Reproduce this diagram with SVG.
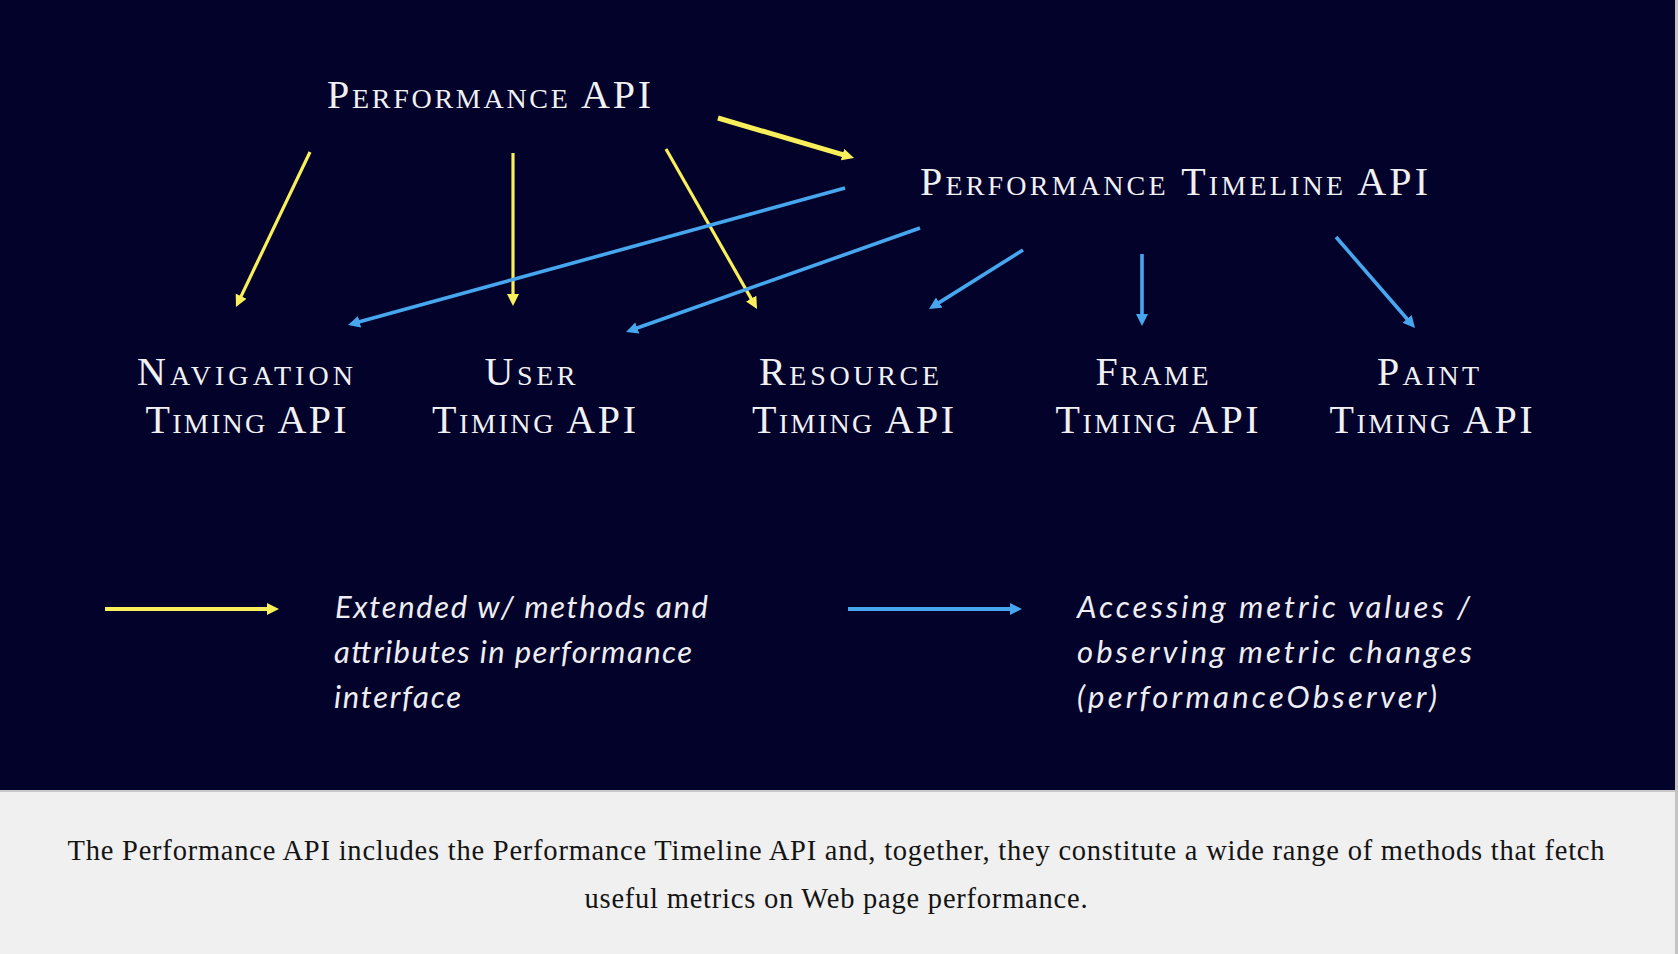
<svg xmlns="http://www.w3.org/2000/svg" width="1678" height="954" viewBox="0 0 1678 954">
  <style>
    .sc { font-family: "Liberation Serif", "DejaVu Serif", serif; font-variant: small-caps; font-size: 40px; fill: #f1f1f3; text-anchor: middle; }
    .leg { font-family: Lato, "Open Sans", "Liberation Sans", sans-serif; font-style: italic; font-weight: 400; font-size: 31px; fill: #eeeef2; }
    .cap { font-family: "Liberation Serif", "DejaVu Serif", serif; font-size: 28.5px; fill: #141414; text-anchor: middle; }
    .y { stroke: #f8ef5b; fill: none; stroke-width: 3.2; }
    .b { stroke: #47a7ee; fill: none; stroke-width: 3.6; }
  </style>
  <defs>
    <marker id="hy" markerUnits="userSpaceOnUse" markerWidth="12" markerHeight="12" viewBox="0 0 12 12" refX="1" refY="6" orient="auto">
      <path d="M0,0 L12,6 L0,12 z" fill="#f8ef5b"/>
    </marker>
    <marker id="hb" markerUnits="userSpaceOnUse" markerWidth="12" markerHeight="12" viewBox="0 0 12 12" refX="1" refY="6" orient="auto">
      <path d="M0,0 L12,6 L0,12 z" fill="#47a7ee"/>
    </marker>
  </defs>

  <rect x="0" y="0" width="1678" height="954" fill="#f0f0f0"/>
  <rect x="0" y="0" width="1675" height="790" fill="#02022b"/>
  <rect x="0" y="790" width="1675" height="2" fill="#c8c8c8"/>
  <rect x="1675" y="0" width="3" height="954" fill="#c4c4c4"/>

  <g id="connectors">
    <line class="y" x1="310" y1="152" x2="240.7" y2="297.1" marker-end="url(#hy)"/>
    <line class="y" x1="513" y1="153" x2="513" y2="295" marker-end="url(#hy)"/>
    <line class="y" x1="666" y1="149" x2="751.6" y2="299.4" marker-end="url(#hy)"/>
    <line class="y" x1="718" y1="118" x2="843.5" y2="154.9" style="stroke-width:5" marker-end="url(#hy)"/>
    <line class="b" x1="845" y1="188" x2="358.6" y2="322.1" marker-end="url(#hb)"/>
    <line class="b" x1="920" y1="228" x2="636.4" y2="328.3" marker-end="url(#hb)"/>
    <line class="b" x1="1023" y1="250" x2="938.3" y2="303.1" marker-end="url(#hb)"/>
    <line class="b" x1="1142" y1="254" x2="1142" y2="315" marker-end="url(#hb)"/>
    <line class="b" x1="1336" y1="237" x2="1407.8" y2="319.7" marker-end="url(#hb)"/>
  </g>

  <g id="performance-api">
    <text class="sc" x="489" y="108" textLength="324" lengthAdjust="spacing">Performance API</text>
  </g>
  <g id="performance-timeline-api">
    <text class="sc" x="1174" y="195" textLength="508" lengthAdjust="spacing">Performance Timeline API</text>
  </g>
  <g id="navigation-timing">
    <text class="sc" x="245" y="385" textLength="216" lengthAdjust="spacing">Navigation</text>
    <text class="sc" x="246" y="433" textLength="201" lengthAdjust="spacing">Timing API</text>
  </g>
  <g id="user-timing">
    <text class="sc" x="530" y="385" textLength="91" lengthAdjust="spacing">User</text>
    <text class="sc" x="534" y="433" textLength="204" lengthAdjust="spacing">Timing API</text>
  </g>
  <g id="resource-timing">
    <text class="sc" x="849" y="385" textLength="180" lengthAdjust="spacing">Resource</text>
    <text class="sc" x="853" y="433" textLength="202" lengthAdjust="spacing">Timing API</text>
  </g>
  <g id="frame-timing">
    <text class="sc" x="1152" y="385" textLength="113" lengthAdjust="spacing">Frame</text>
    <text class="sc" x="1157" y="433" textLength="203" lengthAdjust="spacing">Timing API</text>
  </g>
  <g id="paint-timing">
    <text class="sc" x="1428" y="385" textLength="102" lengthAdjust="spacing">Paint</text>
    <text class="sc" x="1431" y="433" textLength="203" lengthAdjust="spacing">Timing API</text>
  </g>

  <g id="legend-yellow">
    <line class="y" x1="105" y1="609" x2="268" y2="609" style="stroke-width:4" marker-end="url(#hy)"/>
    <text class="leg" x="335" y="618" textLength="373" lengthAdjust="spacing">Extended w/ methods and</text>
    <text class="leg" x="334" y="663" textLength="358" lengthAdjust="spacing">attributes in performance</text>
    <text class="leg" x="334" y="708" textLength="127" lengthAdjust="spacing">interface</text>
  </g>
  <g id="legend-blue">
    <line class="b" x1="848" y1="609" x2="1011" y2="609" style="stroke-width:4" marker-end="url(#hb)"/>
    <text class="leg" x="1077" y="618" textLength="393" lengthAdjust="spacing">Accessing metric values /</text>
    <text class="leg" x="1077" y="663" textLength="395" lengthAdjust="spacing">observing metric changes</text>
    <text class="leg" x="1077" y="708" textLength="360" lengthAdjust="spacing">(performanceObserver)</text>
  </g>

  <g id="caption">
    <text class="cap" x="836" y="860" textLength="1537" lengthAdjust="spacing">The Performance API includes the Performance Timeline API and, together, they constitute a wide range of methods that fetch</text>
    <text class="cap" x="836" y="908" textLength="503" lengthAdjust="spacing">useful metrics on Web page performance.</text>
  </g>
</svg>
